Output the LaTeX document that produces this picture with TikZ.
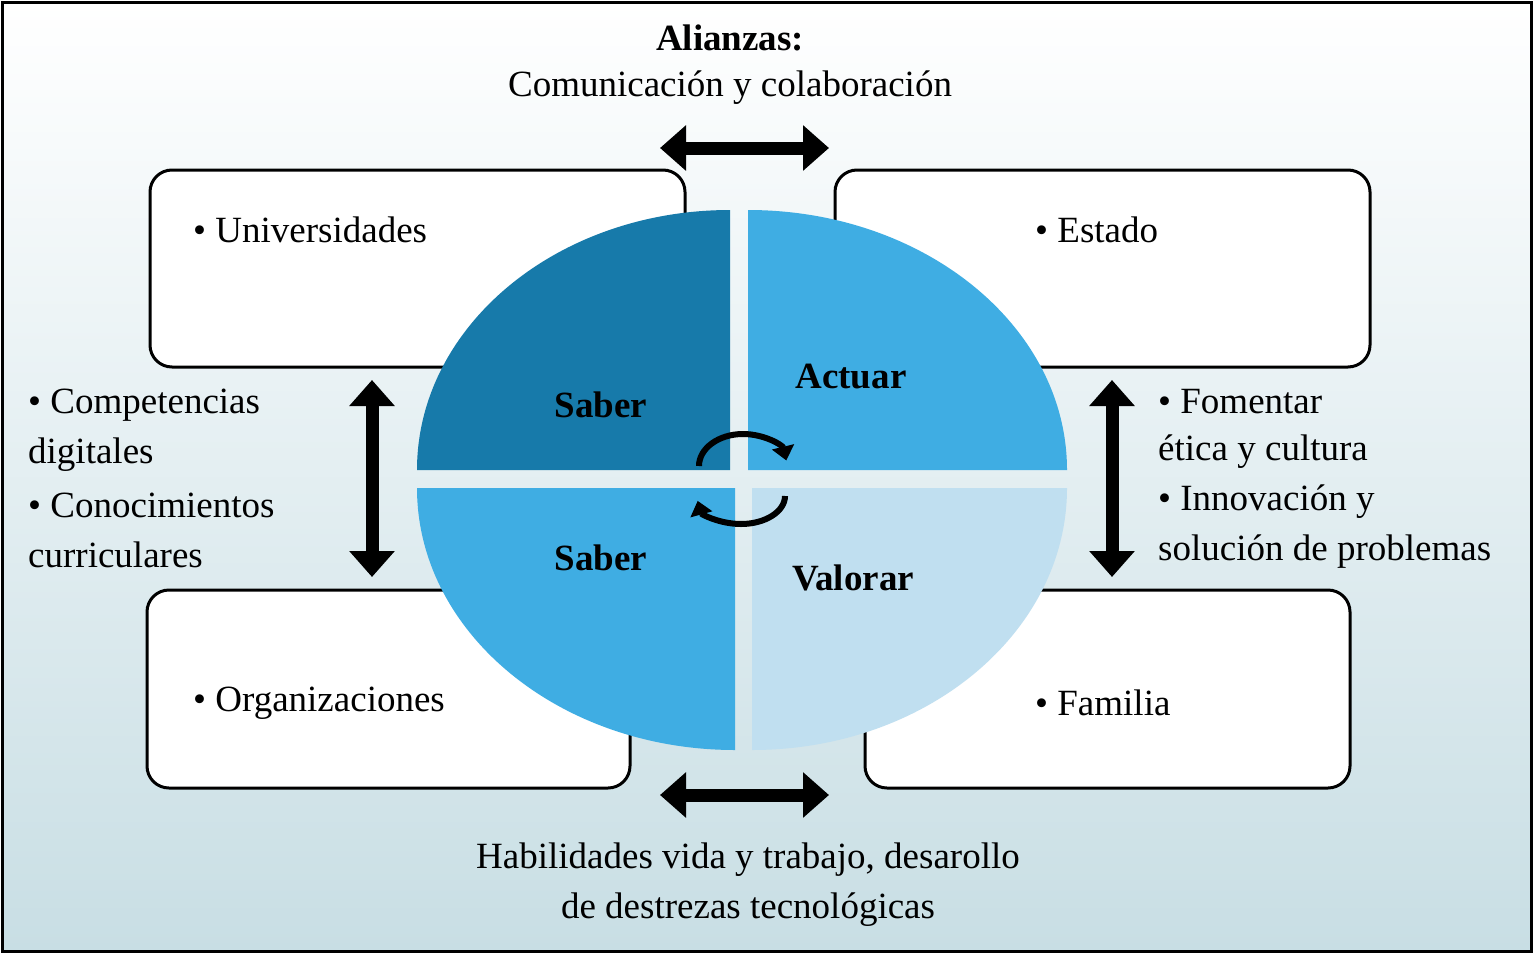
\documentclass[tikz,border=0pt]{standalone}
\usepackage{fontspec}
\setmainfont{Liberation Serif}
\usetikzlibrary{arrows.meta}
\definecolor{darkq}{RGB}{23,122,170}
\definecolor{midq}{RGB}{63,173,227}
\definecolor{lightq}{RGB}{192,223,240}
\definecolor{bgbot}{RGB}{200,222,228}
\tikzset{
  box/.style={draw,line width=3pt,rounded corners=22pt},
  txt/.style={font=\fontsize{37}{40}\selectfont,inner sep=0pt},
  lbl/.style={txt,anchor=west},
  qlbl/.style={txt,font=\fontsize{37}{40}\selectfont\bfseries},
  big/.style={line width=13pt,{Triangle[length=26pt,width=44pt]}-{Triangle[length=26pt,width=44pt]}},
  cyc/.style={line width=6pt,-{Triangle[length=14pt,width=22pt]}}
}
\begin{document}
\begin{tikzpicture}[x=1pt,y=1pt,yscale=-1]
\useasboundingbox (0,0) rectangle (1533,953);
% frame
\shade[top color=white,bottom color=bgbot] (2,2) rectangle (1531,951);
\draw[line width=3pt] (2,2) rectangle (1531,951);

% boxes
\draw[box,fill=white] (150,170) rectangle (685,367);
\draw[box,fill=white] (835,170) rectangle (1370,367);
\draw[box,fill=white] (147,590) rectangle (630,788);
\draw[box,fill=white] (865,590) rectangle (1350,788);

% quadrants
\fill[darkq] (730,470) -- (417,470) arc[start angle=180,end angle=270,x radius=313,y radius=260] -- cycle;
\fill[midq] (748,470) -- (748,210) arc[start angle=270,end angle=360,x radius=319,y radius=260] -- cycle;
\fill[midq] (735,488) -- (417,488) arc[start angle=180,end angle=90,x radius=318,y radius=262] -- cycle;
\fill[lightq] (752,488) -- (1067,488) arc[start angle=0,end angle=90,x radius=315,y radius=262] -- cycle;

% cycle arrows
\draw[cyc] (699,466) arc[start angle=180,end angle=350,x radius=44,y radius=32];
\draw[cyc] (785,496) arc[start angle=0,end angle=170,x radius=44,y radius=28];

% double arrows
\coordinate (tl) at (660,148); \coordinate (tr) at (829,148);
\coordinate (bl) at (660,795); \coordinate (br) at (829,795);
\coordinate (lt) at (372,380); \coordinate (lb) at (372,577);
\coordinate (rt) at (1112,380); \coordinate (rb) at (1112,577);
\draw[big] (tl) -- (tr);
\draw[big] (bl) -- (br);
\draw[big] (lt) -- (lb);
\draw[big] (rt) -- (rb);

% texts
\node[txt,font=\fontsize{37}{40}\selectfont\bfseries] (ali) at (730,38) {Alianzas:};
\node[txt] (com) at (730,88) {Comunicación y colaboración};
\node[lbl] (uni) at (193,230) {• Universidades};
\node[lbl] (est) at (1035,230) {• Estado};
\node[lbl] (org) at (193,703) {• Organizaciones};
\node[lbl] (fam) at (1035,703) {• Familia};
\node[lbl] (l1) at (28,405) {• Competencias};
\node[lbl] (l2) at (28,455) {digitales};
\node[lbl] (l3) at (28,505) {• Conocimientos};
\node[lbl] (l4) at (28,555) {curriculares};
\node[lbl] (r1) at (1158,402) {• Fomentar};
\node[lbl] (r2) at (1158,452) {ética y cultura};
\node[lbl] (r3) at (1158,502) {• Innovación y};
\node[lbl] (r4) at (1158,552) {solución de problemas};
\node[txt] (hab) at (748,860) {Habilidades vida y trabajo, desarollo};
\node[txt] (des) at (748,910) {de destrezas tecnológicas};
\node[qlbl] (sab1) at (601,405) {Saber};
\node[qlbl] (act) at (851,377) {Actuar};
\node[qlbl] (sab2) at (601,558) {Saber};
\node[qlbl] (val) at (853,578) {Valorar};
\end{tikzpicture}
\end{document}
